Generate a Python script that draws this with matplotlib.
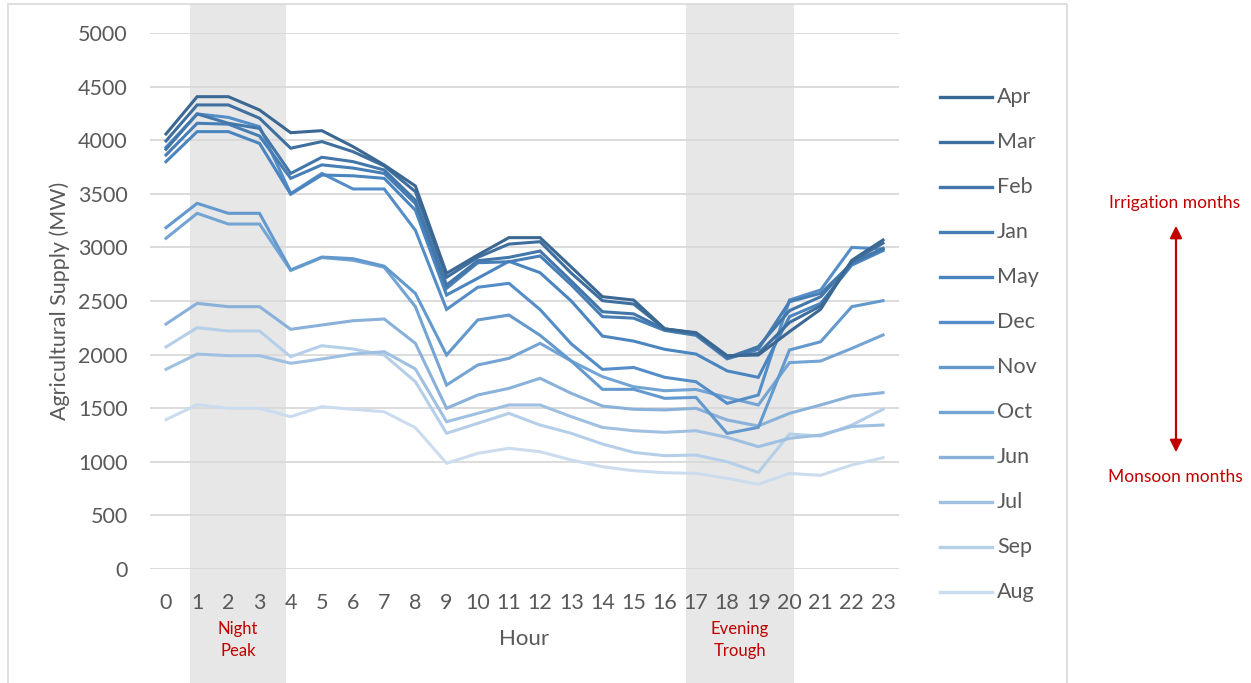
from __future__ import annotations

import matplotlib

matplotlib.use("Agg")
import matplotlib.pyplot as plt
from matplotlib.lines import Line2D
from matplotlib.patches import FancyArrowPatch, Rectangle
from matplotlib.transforms import blended_transform_factory

HOURS = list(range(24))

# legend order (highest mean supply first)
MONTHS = ["Apr", "Mar", "Feb", "Jan", "May", "Dec", "Nov", "Oct", "Jun", "Jul", "Sep", "Aug"]

APR = [4058, 4406, 4406, 4282, 4070, 4089, 3940, 3769, 3573, 2758, 2929, 3091,
       3091, 2817, 2540, 2509, 2240, 2205, 1990, 1996, 2214, 2423, 2880, 3069]
MAR = [3993, 4329, 4329, 4205, 3925, 3987, 3893, 3760, 3520, 2721, 2907, 3031,
       3053, 2760, 2503, 2472, 2240, 2200, 1980, 2010, 2300, 2454, 2870, 3040]
FEB = [3915, 4245, 4158, 4110, 3690, 3841, 3800, 3722, 3440, 2649, 2876, 2907,
       2966, 2686, 2400, 2380, 2235, 2190, 1970, 2074, 2410, 2540, 2860, 2990]
JAN = [3862, 4158, 4150, 4039, 3644, 3770, 3740, 3690, 3409, 2618, 2857, 2866,
       2920, 2650, 2354, 2340, 2225, 2180, 1960, 2050, 2493, 2572, 2850, 2985]
MAY = [3800, 4080, 4080, 3970, 3496, 3675, 3668, 3644, 3347, 2556, 2712, 2870,
       2764, 2500, 2173, 2126, 2049, 2005, 1848, 1788, 2354, 2478, 2835, 2970]
DEC = [3934, 4245, 4213, 4126, 3502, 3690, 3545, 3545, 3160, 2422, 2628, 2665,
       2420, 2100, 1862, 1880, 1788, 1747, 1545, 1623, 2509, 2603, 3000, 2985]
NOV = [3184, 3411, 3318, 3318, 2790, 2910, 2895, 2825, 2571, 1996, 2323, 2369,
       2180, 1940, 1676, 1676, 1592, 1601, 1265, 1321, 2043, 2120, 2447, 2503]
OCT = [3085, 3318, 3218, 3218, 2785, 2905, 2880, 2815, 2447, 1716, 1903, 1965,
       2105, 1940, 1794, 1700, 1663, 1675, 1600, 1530, 1925, 1940, 2058, 2183]
JUN = [2285, 2478, 2447, 2447, 2236, 2276, 2316, 2332, 2105, 1499, 1623, 1685,
       1779, 1639, 1520, 1490, 1484, 1499, 1390, 1334, 1452, 1530, 1614, 1645]
JUL = [1863, 2005, 1990, 1990, 1919, 1959, 2005, 2027, 1866, 1374, 1452, 1530,
       1530, 1421, 1321, 1290, 1275, 1290, 1228, 1141, 1219, 1250, 1330, 1343]
SEP = [2071, 2251, 2220, 2220, 1980, 2083, 2052, 1996, 1747, 1266, 1359, 1452,
       1343, 1266, 1166, 1088, 1057, 1063, 1000, 901, 1259, 1240, 1343, 1490]
AUG = [1393, 1533, 1499, 1499, 1421, 1514, 1490, 1467, 1318, 986, 1079, 1126,
       1094, 1017, 954, 917, 898, 892, 846, 790, 892, 874, 970, 1038]

SERIES = [APR, MAR, FEB, JAN, MAY, DEC, NOV, OCT, JUN, JUL, SEP, AUG]

COLORS = ["#3b6893", "#3f6f9e", "#4377aa", "#467eb5", "#4b85bf", "#548dc7",
          "#6399cd", "#74a4d3", "#89b1d9", "#9fc0e1", "#b6cfe8", "#cbdcef"]

# shaded windows (category-axis units) with their captions
SHADES = [(0.77, 3.85, "Night\nPeak"), (16.68, 20.15, "Evening\nTrough")]

FONT = ["Lato", "DejaVu Sans"]
GREY = "#595959"
RED = "#c00000"
W, H = 1251, 683


def fx(px: float) -> float:
    return px / W


def fy(py: float) -> float:
    return 1 - py / H


def main() -> None:
    plt.rcParams["font.family"] = FONT
    fig = plt.figure(figsize=(W / 100, H / 100), dpi=100)
    ax = fig.add_axes([fx(150), fy(569), fx(899) - fx(150), fy(33) - fy(569)])
    ax.set_facecolor("none")
    ax.set_xlim(-0.513, 23.513)
    ax.set_ylim(0, 5000)

    # outer chart border
    fig.add_artist(Rectangle((fx(8), -0.02), fx(1067) - fx(8), fy(4) + 0.02,
                             transform=fig.transFigure, fill=False,
                             edgecolor="#d9d9d9", linewidth=1.2))

    trans = blended_transform_factory(ax.transData, fig.transFigure)
    for x0, x1, label in SHADES:
        ax.add_patch(Rectangle((x0, 0), x1 - x0, fy(4), transform=trans,
                               facecolor="#e7e7e7", edgecolor="none",
                               clip_on=False, zorder=0.1))
        ax.text((x0 + x1) / 2, fy(640), label, transform=trans, clip_on=False,
                color=RED, fontsize=12, ha="center", va="center", linespacing=1.45)

    for name, values, color in reversed(list(zip(MONTHS, SERIES, COLORS))):
        ax.plot(HOURS, values, color=color, linewidth=2.2, label=name,
                solid_joinstyle="miter", zorder=3)

    ax.set_xticks(HOURS)
    ax.set_yticks(range(0, 5001, 500))
    ax.grid(axis="y", color="#d9d9d9", linewidth=1.3)
    ax.set_axisbelow(True)
    ax.tick_params(length=0, labelsize=15.5, labelcolor=GREY)
    ax.tick_params(axis="y", pad=16)
    ax.tick_params(axis="x", pad=17)
    for spine in ax.spines.values():
        spine.set_visible(False)
    ax.set_xlabel("Hour", fontsize=16, color=GREY, labelpad=12)
    ax.set_ylabel("Agricultural Supply (MW)", fontsize=15.5, color=GREY, labelpad=6)

    # legend, same order as the series
    for i, (name, color) in enumerate(zip(MONTHS, COLORS)):
        y = fy(97 + 45 * i)
        fig.add_artist(Line2D([fx(940), fx(992)], [y, y], color=color,
                              linewidth=2.4, transform=fig.transFigure))
        fig.text(fx(997), y, name, fontsize=15.5, color=GREY, va="center", ha="left")

    fig.text(fx(1175), fy(203), "Irrigation months", color=RED, fontsize=12.5,
             ha="center", va="center")
    fig.text(fx(1175), fy(477), "Monsoon months", color=RED, fontsize=12.5,
             ha="center", va="center")
    fig.add_artist(FancyArrowPatch(
        (fx(1176), fy(223)), (fx(1176), fy(455)), transform=fig.transFigure,
        arrowstyle="<|-|>", mutation_scale=18, color=RED, linewidth=1.6))

    fig.savefig("out.png", dpi=100)
    plt.close(fig)


if __name__ == "__main__":
    main()
